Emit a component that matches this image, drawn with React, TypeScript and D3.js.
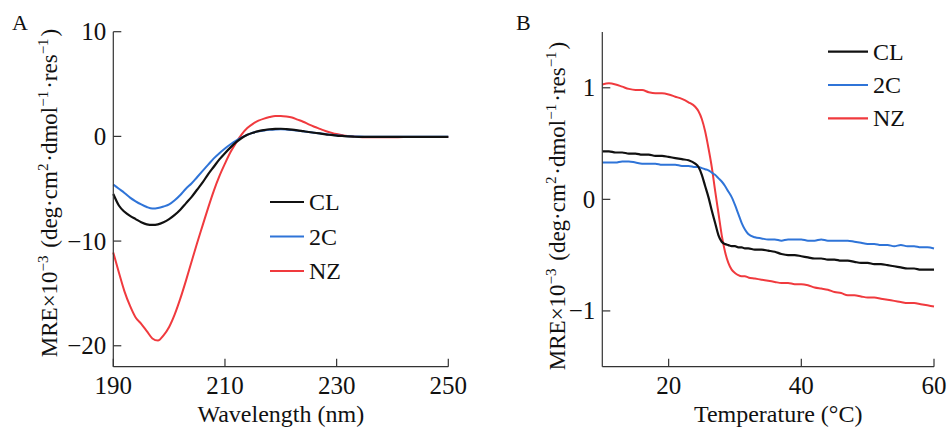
import React from "react";
import * as d3 from "d3";

// panel A: CD spectra
const wavelengths = [
  190, 191, 192, 193, 194, 195, 196, 197, 198, 199, 200, 201, 202, 203, 204,
  205, 206, 207, 208, 209, 210, 211, 212, 213, 214, 215, 216, 217, 218, 219,
  220, 221, 222, 223, 224, 225, 226, 227, 228, 229, 230, 231, 232, 233, 234,
  235, 236, 238, 240, 242, 244, 246, 248, 250,
];
const specCL = [
  -5.5, -6.6, -7.2, -7.6, -7.9, -8.2, -8.4, -8.45, -8.4, -8.2, -7.9, -7.5,
  -7.0, -6.4, -5.8, -5.1, -4.4, -3.6, -2.9, -2.2, -1.6, -1.05, -0.55, -0.15,
  0.15, 0.35, 0.5, 0.6, 0.68, 0.72, 0.73, 0.7, 0.65, 0.58, 0.5, 0.42, 0.35,
  0.28, 0.2, 0.14, 0.08, 0.04, 0.0, -0.03, -0.05, -0.05, -0.05, -0.05, -0.05,
  -0.04, -0.04, -0.04, -0.04, -0.04,
];
const spec2C = [
  -4.6, -5.0, -5.4, -5.85, -6.2, -6.5, -6.75, -6.9, -6.85, -6.7, -6.5, -6.1,
  -5.6, -5.0, -4.5, -3.9, -3.3, -2.7, -2.1, -1.6, -1.15, -0.75, -0.4, -0.1,
  0.15, 0.35, 0.48, 0.57, 0.63, 0.66, 0.67, 0.65, 0.6, 0.55, 0.48, 0.42, 0.35,
  0.28, 0.22, 0.15, 0.1, 0.05, 0.02, 0.0, -0.02, -0.03, -0.03, -0.03, -0.03,
  -0.03, -0.03, -0.03, -0.03, -0.03,
];
const specNZ = [
  -11.1, -13.0, -14.8, -16.2, -17.3, -17.9, -18.6, -19.3, -19.5, -19.0, -18.2,
  -17.0, -15.5, -13.8, -12.0, -10.2, -8.5, -6.8, -5.2, -3.8, -2.6, -1.5, -0.6,
  0.2, 0.8, 1.2, 1.5, 1.7, 1.85, 1.95, 1.95, 1.9, 1.8, 1.6, 1.4, 1.15, 0.92,
  0.72, 0.52, 0.36, 0.22, 0.12, 0.04, -0.02, -0.06, -0.08, -0.08, -0.08, -0.08,
  -0.07, -0.07, -0.06, -0.06, -0.06,
];

// panel B: thermal melt
const temps = [
  10, 11, 12, 13, 14, 15, 16, 17, 18, 19, 20, 21, 22, 23, 24, 24.5, 25, 25.5,
  26, 26.5, 27, 27.5, 28, 28.5, 29, 29.5, 30, 30.5, 31, 31.5, 32, 33, 34, 35,
  36, 37, 38, 39, 40, 41, 42, 43, 44, 45, 46, 47, 48, 49, 50, 51, 52, 53, 54,
  55, 56, 57, 58, 59, 60,
];
const meltCL = [
  0.43, 0.43, 0.42, 0.42, 0.41, 0.41, 0.4, 0.4, 0.39, 0.39, 0.38, 0.37, 0.36,
  0.35, 0.32, 0.29, 0.22, 0.12, 0.02, -0.1, -0.21, -0.32, -0.38, -0.4, -0.41,
  -0.42, -0.42, -0.43, -0.43, -0.44, -0.44, -0.45, -0.45, -0.46, -0.47, -0.49,
  -0.5, -0.5, -0.51, -0.52, -0.53, -0.53, -0.54, -0.54, -0.55, -0.55, -0.56,
  -0.57, -0.57, -0.58, -0.58, -0.59, -0.6, -0.61, -0.62, -0.62, -0.63, -0.63,
  -0.63,
];
const melt2C = [
  0.33, 0.33, 0.33, 0.34, 0.34, 0.33, 0.32, 0.32, 0.32, 0.31, 0.31, 0.31, 0.3,
  0.3, 0.29, 0.29, 0.28, 0.27, 0.26, 0.24, 0.22, 0.19, 0.16, 0.12, 0.07, 0.02,
  -0.05, -0.13, -0.21, -0.27, -0.31, -0.34, -0.35, -0.36, -0.36, -0.37, -0.36,
  -0.36, -0.36, -0.37, -0.37, -0.36, -0.37, -0.37, -0.37, -0.37, -0.38, -0.39,
  -0.4, -0.4, -0.41, -0.41, -0.42, -0.41, -0.42, -0.42, -0.43, -0.43, -0.44,
];
const meltNZ = [
  1.03, 1.04, 1.03, 1.01, 0.99, 0.98, 0.98, 0.96, 0.95, 0.95, 0.94, 0.92, 0.9,
  0.87, 0.83, 0.79, 0.72, 0.61, 0.46, 0.29, 0.08, -0.12, -0.32, -0.47, -0.57,
  -0.63, -0.66, -0.68, -0.69, -0.69, -0.7, -0.71, -0.72, -0.73, -0.74, -0.75,
  -0.75, -0.76, -0.76, -0.77, -0.79, -0.8, -0.81, -0.83, -0.84, -0.86, -0.86,
  -0.87, -0.88, -0.88, -0.89, -0.9, -0.91, -0.92, -0.93, -0.93, -0.94, -0.95,
  -0.96,
];

const seriesNames = ["CL", "2C", "NZ"];
const seriesColors = ["#111111", "#2f74d8", "#f03a3e"];

const ticksA_x = [190, 210, 230, 250];
const ticksA_y = [10, 0, -10, -20];
const ticksB_x = [20, 40, 60];
const ticksB_y = [1, 0, -1];

const FONT = "'Liberation Serif', 'Times New Roman', serif";
const AXIS = "#333";

function fmt(v: number) {
  return v < 0 ? "\u2212" + Math.abs(v) : String(v);
}

function YTitle({ x, y }: { x: number; y: number }) {
  const sup = (s: string) => (
    <>
      <tspan dy={-9} fontSize={15}>
        {s}
      </tspan>
      <tspan dy={9}>{"\u200a"}</tspan>
    </>
  );
  return (
    <text
      transform={`translate(${x},${y}) rotate(-90)`}
      textAnchor="middle"
      fontSize={23}
      fontFamily={FONT}
      fill="#111"
    >
      MRE×10{sup("\u22123")} (deg·cm{sup("2")}·dmol{sup("\u22121")}·res
      {sup("\u22121")})
    </text>
  );
}

function Panel({
  xs,
  series,
  xDomain,
  yDomain,
  xRange,
  yRange,
  xTicks,
  yTicks,
  xTitle,
  xTitleShift,
  titleX,
  titleY,
  legend,
  curve,
}: any) {
  const x = d3.scaleLinear().domain(xDomain).range(xRange);
  const y = d3.scaleLinear().domain(yDomain).range(yRange);
  const line = d3
    .line<number>()
    .x((_, i) => x(xs[i]))
    .y((d) => y(d))
    .curve(curve);
  const [x0, x1] = xRange;
  const [yb, yt] = yRange;
  return (
    <g>
      {/* series; draw NZ, 2C, CL order so black sits on top */}
      {[2, 1, 0].map((i) => (
        <path
          key={i}
          d={line(series[i]) || ""}
          fill="none"
          stroke={seriesColors[i]}
          strokeWidth={i === 0 ? 2.2 : 2}
          strokeLinejoin="round"
        />
      ))}
      <line x1={x0} x2={x0} y1={yt} y2={yb} stroke={AXIS} strokeWidth={1.2} />
      <line x1={x0} x2={x1} y1={yb} y2={yb} stroke={AXIS} strokeWidth={1.2} />
      {yTicks.map((t: number) => (
        <g key={"y" + t}>
          <line x1={x0} x2={x0 + 8} y1={y(t)} y2={y(t)} stroke={AXIS} strokeWidth={1.2} />
          <text
            x={x0 - 7}
            y={y(t)}
            dy="0.34em"
            textAnchor="end"
            fontSize={25}
            fontFamily={FONT}
            fill="#111"
          >
            {fmt(t)}
          </text>
        </g>
      ))}
      {xTicks.map((t: number) => (
        <g key={"x" + t}>
          <line x1={x(t)} x2={x(t)} y1={yb} y2={yb - 8} stroke={AXIS} strokeWidth={1.2} />
          <text
            x={x(t)}
            y={yb + 27}
            textAnchor="middle"
            fontSize={25}
            fontFamily={FONT}
            fill="#111"
          >
            {fmt(t)}
          </text>
        </g>
      ))}
      <text
        x={(x0 + x1) / 2 + xTitleShift}
        y={yb + 55}
        textAnchor="middle"
        fontSize={24}
        fontFamily={FONT}
        fill="#111"
      >
        {xTitle}
      </text>
      <YTitle x={titleX} y={titleY} />
      {seriesNames.map((n, i) => (
        <g key={n}>
          <line
            x1={legend.x}
            x2={legend.x + legend.len}
            y1={legend.y + i * legend.step}
            y2={legend.y + i * legend.step}
            stroke={seriesColors[i]}
            strokeWidth={2.2}
          />
          <text
            x={legend.x + legend.len + 5}
            y={legend.y + i * legend.step}
            dy="0.34em"
            fontSize={24}
            fontFamily={FONT}
            fill="#111"
          >
            {n}
          </text>
        </g>
      ))}
    </g>
  );
}

export default function App() {
  return (
    <svg
      width={948}
      height={427}
      style={{ position: "absolute", left: 0, top: 0, background: "#fff" }}
    >
      <text x={12} y={30} fontSize={22} fontFamily={FONT} fill="#111">
        A
      </text>
      <text x={516} y={30} fontSize={22} fontFamily={FONT} fill="#111">
        B
      </text>
      <Panel
        xs={wavelengths}
        series={[specCL, spec2C, specNZ]}
        xDomain={[190, 250]}
        yDomain={[-22, 10]}
        xRange={[113.3, 448.3]}
        yRange={[366.7, 31.7]}
        xTicks={ticksA_x}
        yTicks={ticksA_y}
        xTitle="Wavelength (nm)"
        xTitleShift={0}
        titleX={57}
        titleY={193}
        legend={{ x: 270, y: 202, len: 34, step: 34.5 }}
        curve={d3.curveMonotoneX}
      />
      <Panel
        xs={temps}
        series={[meltCL, melt2C, meltNZ]}
        xDomain={[10, 60]}
        yDomain={[-1.5, 1.5]}
        xRange={[602.3, 934]}
        yRange={[366.7, 32]}
        xTicks={ticksB_x}
        yTicks={ticksB_y}
        xTitle="Temperature (°C)"
        xTitleShift={10}
        titleX={565}
        titleY={206}
        legend={{ x: 828, y: 51.7, len: 40, step: 33.3 }}
        curve={d3.curveMonotoneX}
      />
    </svg>
  );
}
